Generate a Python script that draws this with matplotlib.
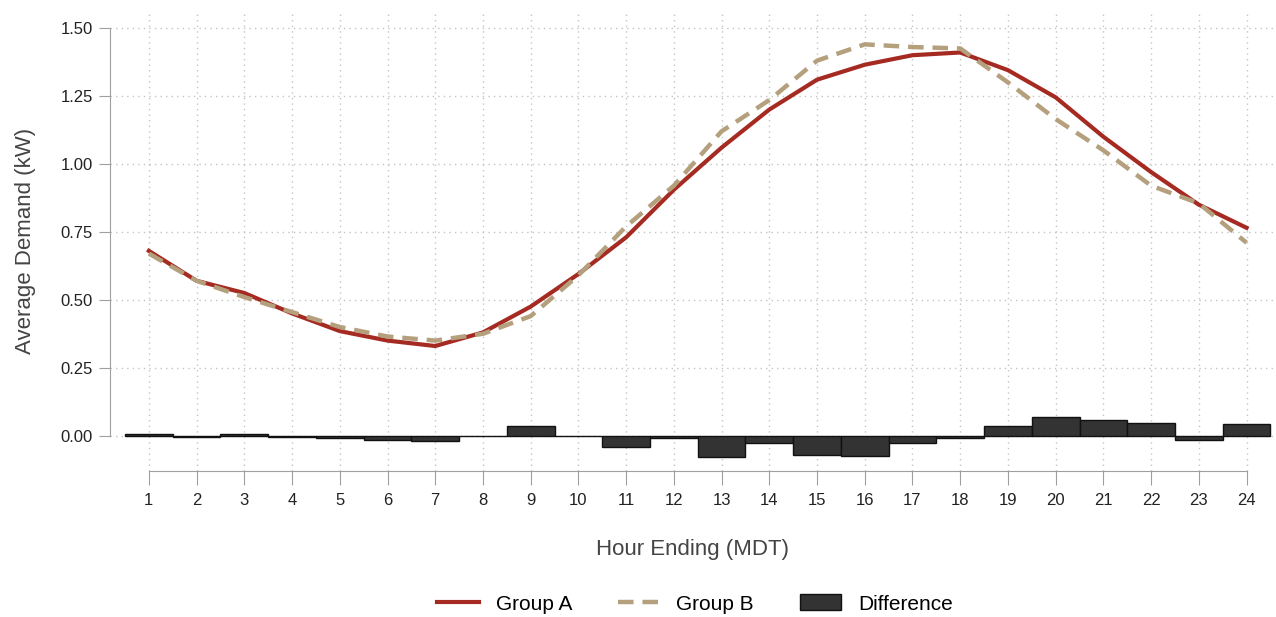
import numpy as np
import matplotlib.pyplot as plt

plt.rcParams['font.family'] = ['Liberation Sans', 'DejaVu Sans']

hours = np.arange(1, 25)
group_a = [0.68, 0.57, 0.525, 0.45, 0.385, 0.35, 0.33, 0.38, 0.475, 0.595, 0.73, 0.905,
           1.06, 1.20, 1.31, 1.365, 1.40, 1.41, 1.345, 1.245, 1.10, 0.97, 0.85, 0.765]
group_b = [0.67, 0.57, 0.51, 0.455, 0.40, 0.365, 0.35, 0.375, 0.44, 0.59, 0.77, 0.92,
           1.12, 1.235, 1.38, 1.44, 1.43, 1.425, 1.30, 1.165, 1.05, 0.92, 0.855, 0.71]
diff = [0.005, -0.005, 0.008, -0.006, -0.01, -0.015, -0.02, -0.002, 0.035, -0.002, -0.04, -0.01,
        -0.077, -0.025, -0.07, -0.074, -0.025, -0.008, 0.035, 0.07, 0.056, 0.045, -0.015, 0.042]
yticks = [0.0, 0.25, 0.5, 0.75, 1.0, 1.25, 1.5]

fig = plt.figure(figsize=(12.76, 6.17), dpi=100)
ax = fig.add_axes([0.086, 0.237, 0.913, 0.744])

grid_col = '#c4c4c4'
spine_col = '#a0a0a0'

ax.bar(hours, diff, width=1.0, color='#333333', edgecolor='#111111', linewidth=1,
       label='Difference', zorder=2)
ax.plot(hours, group_a, color='#a52a22', lw=3, label='Group A', zorder=3)
ax.plot(hours, group_b, color='#b5a07e', lw=3.2, ls=(0, (3.5, 2)), label='Group B', zorder=4)

ax.set_xlim(0.18, 24.59)
ax.set_ylim(-0.129, 1.56)
ax.set_xticks(hours)
ax.set_yticks(yticks)
ax.set_yticklabels([f'{v:.2f}' for v in yticks])

ax.grid(True, color=grid_col, ls=(0, (1, 3)), lw=1.0, zorder=0)
ax.set_axisbelow(True)

for s in ['top', 'right']:
    ax.spines[s].set_visible(False)
ax.spines['left'].set_bounds(0, 1.5)
ax.spines['bottom'].set_bounds(1, 24)
ax.spines['left'].set_color(spine_col)
ax.spines['bottom'].set_color(spine_col)
ax.tick_params(axis='y', length=8, color=spine_col, labelsize=12, labelcolor='#222222', pad=4)
ax.tick_params(axis='x', length=10, color=spine_col, labelsize=12, labelcolor='#222222', pad=6)

ax.set_ylabel('Average Demand (kW)', fontsize=16, color='#444444', labelpad=18)
ax.set_xlabel('Hour Ending (MDT)', fontsize=16, color='#444444', labelpad=22)

h, l = ax.get_legend_handles_labels()
order = [l.index('Group A'), l.index('Group B'), l.index('Difference')]
fig.legend([h[i] for i in order], [l[i] for i in order], loc='center',
           bbox_to_anchor=(695 / 1276, 1 - 604 / 617), ncol=3, frameon=False,
           fontsize=15, handlelength=2.0, handleheight=0.8, columnspacing=2.2,
           borderpad=0.2)

fig.savefig('out.png', dpi=100)
